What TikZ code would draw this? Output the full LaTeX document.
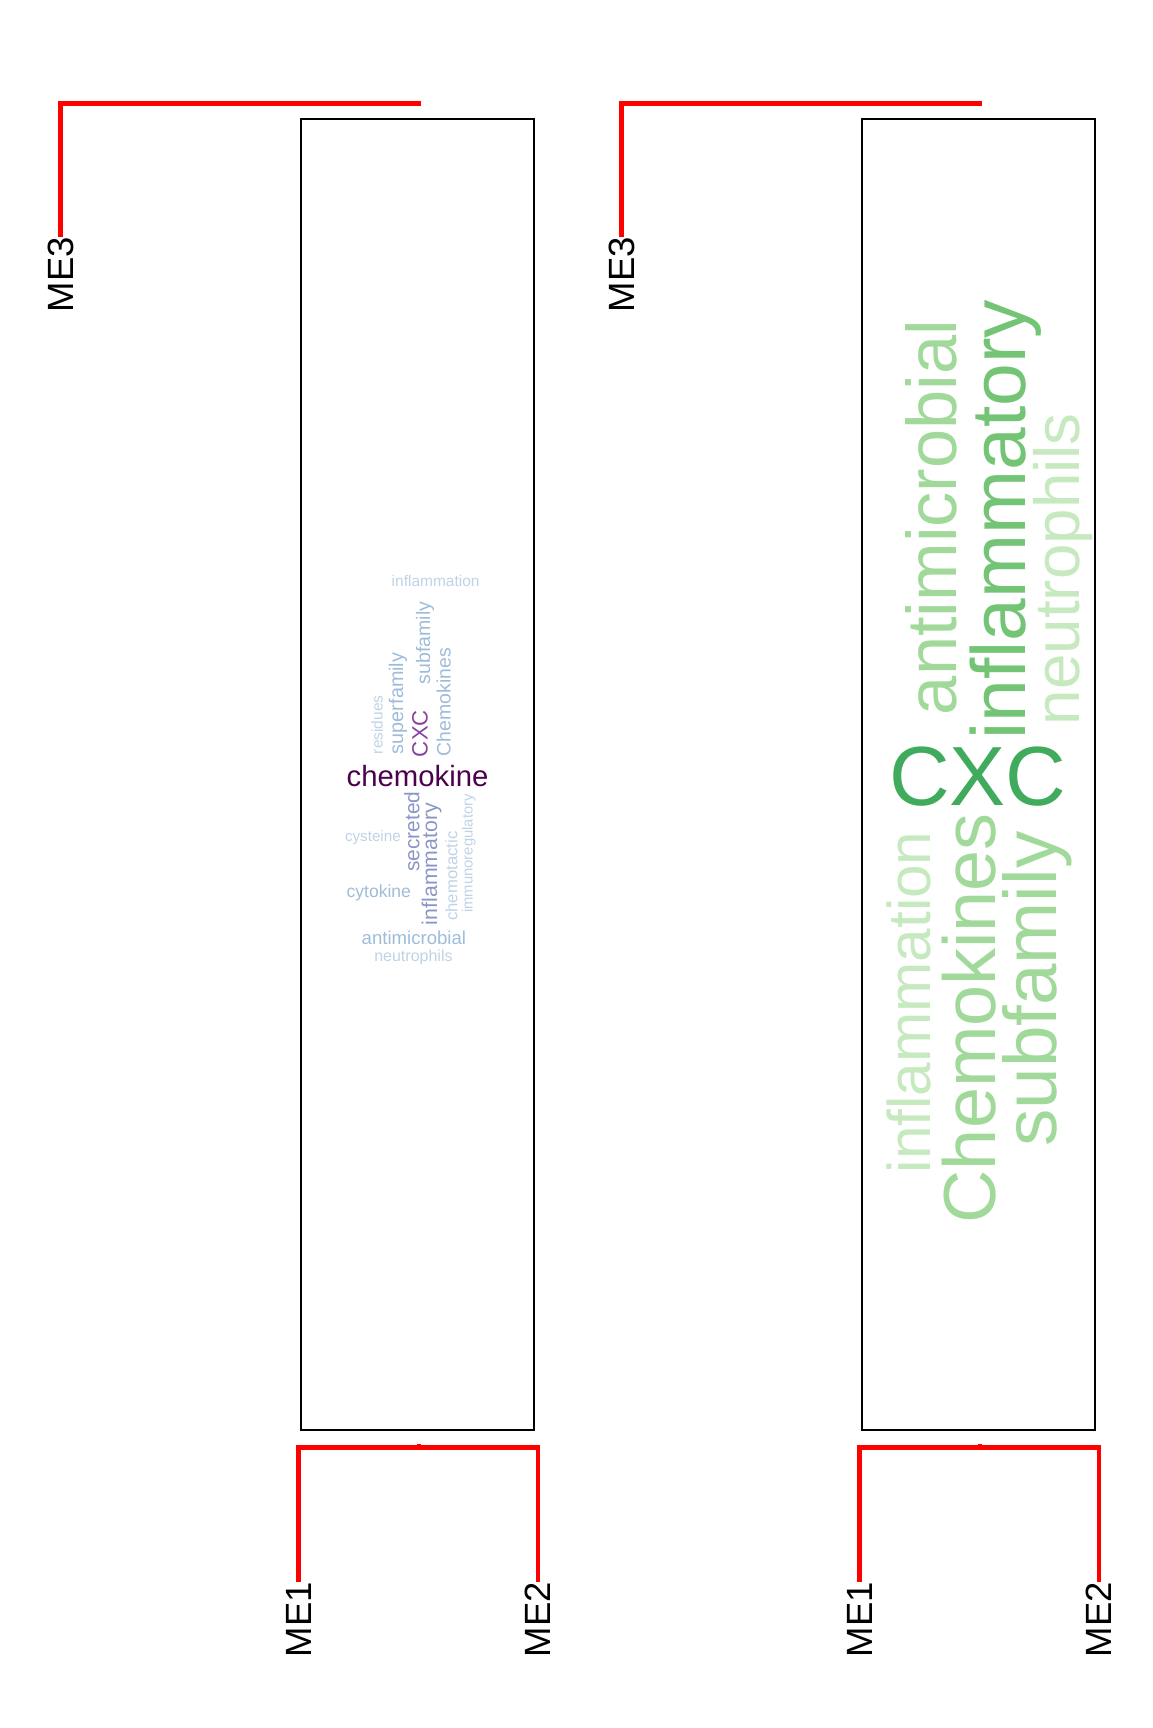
\documentclass[tikz,border=0pt]{standalone}
\usepackage{fontspec}
\setmainfont{Liberation Sans}
\definecolor{bua}{HTML}{BFD3E6}
\definecolor{bub}{HTML}{9EBCDA}
\definecolor{buc}{HTML}{8C96C6}
\definecolor{bud}{HTML}{88419D}
\definecolor{bue}{HTML}{4D004B}
\definecolor{gra}{HTML}{C7E9C0}
\definecolor{grb}{HTML}{A1D99B}
\definecolor{grc}{HTML}{74C476}
\definecolor{grd}{HTML}{41AB5D}
\definecolor{dendro}{HTML}{FF0000}
\begin{document}
\begin{tikzpicture}[x=0.5pt,y=-0.5pt,
  wsz/.style={font={\fontsize{#1}{#1}\selectfont}},
  vword/.style={anchor=base west, rotate=90, inner sep=0pt, outer sep=0pt},
  hword/.style={anchor=base west, inner sep=0pt, outer sep=0pt},
  melab/.style={anchor=base west, rotate=90, inner sep=0pt, outer sep=0pt, font={\fontsize{18.25}{18.25}\selectfont}},
  redln/.style={draw=dendro, line width=2.25pt},
  panelbox/.style={draw=black, line width=1pt, minimum width=116.5pt, minimum height=655.5pt, inner sep=0pt}]
\path[use as bounding box] (0,0) rectangle (1152,1728);

% ---------------- Panel 1 ----------------
\node[panelbox] (box1) at (417.5,774.8) {};
\node[melab] (p1me3) at (73,312) {ME3};
\node[melab] (p1me1) at (311,1657) {ME1};
\node[melab] (p1me2) at (550.5,1657) {ME2};
\coordinate (p1top) at (421,103.5);
\coordinate (p1j) at (419,1447.5);
\draw[redln] (p1me3.east) |- (p1top);
\draw[redln] (p1me1.east) |- (p1j) -| (p1me2.east);
\draw[redln] (p1j) -- ++(0,-3.5);

\node[hword, wsz=7.75, text=bua] (a1) at (391.7,586) {inflammation};
\node[vword, wsz=7.75, text=bua] (a2) at (382.7,754) {residues};
\node[vword, wsz=9.9, text=bub] (a3) at (403,754) {superfamily};
\node[vword, wsz=11.1, text=bud] (a4) at (427.7,757) {CXC};
\node[vword, wsz=9.75, text=bub] (a5) at (430,684) {subfamily};
\node[vword, wsz=9.7, text=bub] (a6) at (450.7,756) {Chemokines};
\node[hword, wsz=14.65, text=bue] (a7) at (346.7,786) {chemokine};
\node[vword, wsz=10.45, text=buc] (a8) at (419.3,871.7) {secreted};
\node[vword, wsz=10.65, text=buc] (a9) at (437,925) {inflammatory};
\node[hword, wsz=7.6, text=bua] (a10) at (345,841.7) {cysteine};
\node[hword, wsz=8.75, text=bub] (a11) at (346.7,897.7) {cytokine};
\node[vword, wsz=8.35, text=bua] (a12) at (457.3,920.7) {chemotactic};
\node[vword, wsz=7.4, text=bua] (a13) at (472.6,912.7) {immunoregulatory};
\node[hword, wsz=9.3, text=bub] (a14) at (361.7,944.3) {antimicrobial};
\node[hword, wsz=8, text=bua] (a15) at (374.3,961.7) {neutrophils};

% ---------------- Panel 2 ----------------
\node[panelbox] (box2) at (978.5,774.8) {};
\node[melab] (p2me3) at (634,312) {ME3};
\node[melab] (p2me1) at (872,1657) {ME1};
\node[melab] (p2me2) at (1111.5,1657) {ME2};
\coordinate (p2top) at (982,103.5);
\coordinate (p2j) at (980,1447.5);
\draw[redln] (p2me3.east) |- (p2top);
\draw[redln] (p2me1.east) |- (p2j) -| (p2me2.east);
\draw[redln] (p2j) -- ++(0,-3.5);

\node[vword, wsz=35.2, text=grb] (b1) at (956.7,715) {antimicrobial};
\node[vword, wsz=38.4, text=grc] (b2) at (1025.6,739.3) {inflammatory};
\node[vword, wsz=31.85, text=gra] (b3) at (1079,725) {neutrophils};
\node[hword, wsz=42, text=grd] (b4) at (889,805) {CXC};
\node[vword, wsz=30.15, text=gra] (b5) at (930,1173.3) {inflammation};
\node[vword, wsz=36.9, text=grb] (b6) at (995,1223.3) {Chemokines};
\node[vword, wsz=37.3, text=grb] (b7) at (1056,1146.7) {subfamily};
\end{tikzpicture}
\end{document}
